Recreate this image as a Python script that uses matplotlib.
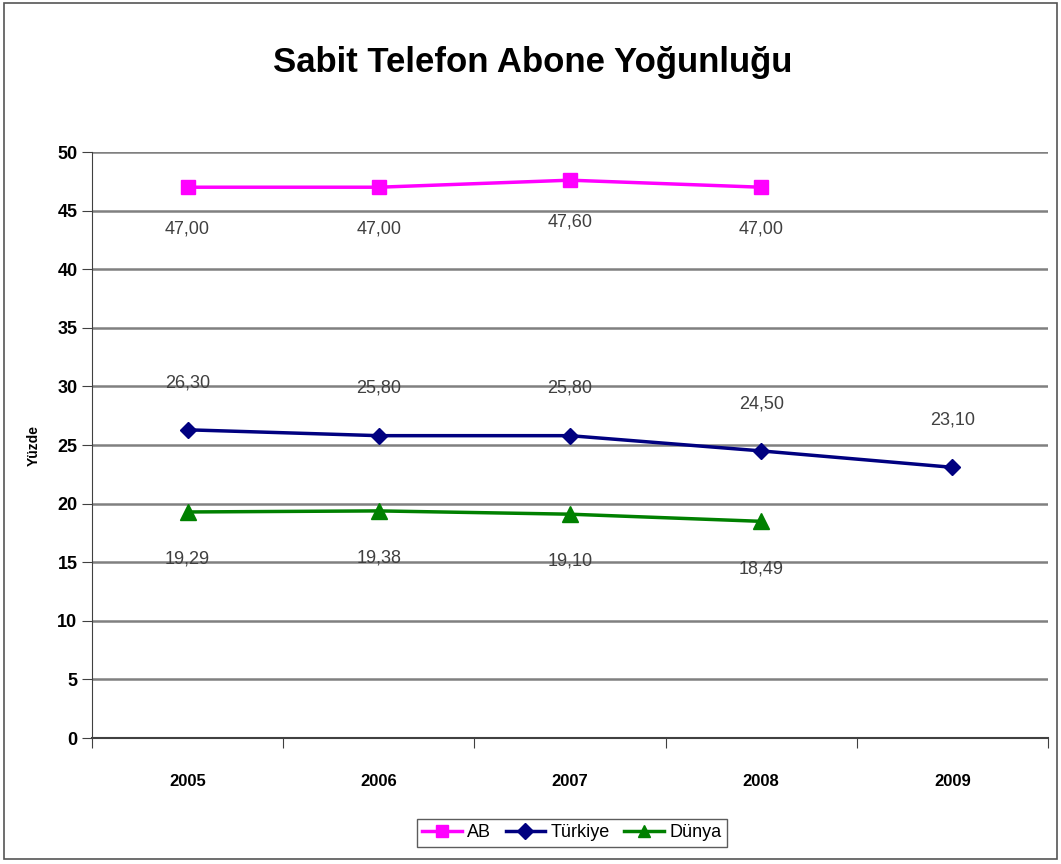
import numpy as np
import matplotlib
matplotlib.use("Agg")
import matplotlib.pyplot as plt
from matplotlib.patches import Rectangle

plt.rcParams['font.family'] = ['Liberation Sans', 'DejaVu Sans']

years = ['2005', '2006', '2007', '2008', '2009']
ab = [47.00, 47.00, 47.60, 47.00]
turkiye = [26.30, 25.80, 25.80, 24.50, 23.10]
dunya = [19.29, 19.38, 19.10, 18.49]

def fmt(v):
    return ('%.2f' % v).replace('.', ',')

fig = plt.figure(figsize=(10.61, 8.64), dpi=100)
fig.patches.append(Rectangle((0.004, 0.006), 0.992, 0.99, transform=fig.transFigure,
                             fill=False, edgecolor='#555555', linewidth=1.2))
ax = fig.add_axes([0.0867, 0.1458, 0.901, 0.6782])

x = np.arange(len(years))
ax.plot(x[:len(ab)], ab, color='#ff00ff', marker='s', markersize=10, linewidth=2.5, label='AB', zorder=3)
ax.plot(x, turkiye, color='#000080', marker='D', markersize=8, linewidth=2.5, label='Türkiye', zorder=3)
ax.plot(x[:len(dunya)], dunya, color='#008000', marker='^', markersize=11, linewidth=2.5, label='Dünya', zorder=3)

# etiquetas de datos
for i, v in enumerate(ab):
    ax.annotate(fmt(v), (x[i], v), xytext=(0, -30), textcoords='offset points',
                ha='center', va='center', fontsize=13, color='#404040')
for i, v in enumerate(turkiye):
    ax.annotate(fmt(v), (x[i], v), xytext=(0, 34), textcoords='offset points',
                ha='center', va='center', fontsize=13, color='#404040')
for i, v in enumerate(dunya):
    ax.annotate(fmt(v), (x[i], v), xytext=(0, -34), textcoords='offset points',
                ha='center', va='center', fontsize=13, color='#404040')

ax.set_xlim(-0.5, 4.5)
ax.set_ylim(0, 50)
ax.set_yticks(np.arange(0, 51, 5))
ax.yaxis.grid(True, color='#808080', linewidth=1.8)
ax.set_axisbelow(True)
ax.set_xticks(np.arange(-0.5, 4.6, 1))
ax.set_xticklabels([])
ax.set_xticks(x, minor=True)
ax.set_xticklabels(years, minor=True, fontsize=12, fontweight='bold')
ax.tick_params(axis='x', which='minor', length=0, pad=26)
ax.tick_params(axis='x', which='major', length=7, direction='out', color='#404040')
ax.tick_params(axis='y', labelsize=13, length=7, direction='out', color='#404040')
for lab in ax.get_yticklabels():
    lab.set_fontweight('bold')
for s in ['top', 'right']:
    ax.spines[s].set_visible(False)
ax.spines['left'].set_color('#404040')
ax.spines['bottom'].set_color('#404040')
ax.spines['bottom'].set_linewidth(1.5)

ax.set_ylabel('Yüzde', fontsize=10, fontweight='bold', labelpad=12)

fig.text(0.502, 0.928, 'Sabit Telefon Abone Yoğunluğu', ha='center', va='center',
         fontsize=25, fontweight='bold')

leg = fig.legend(loc='center', bbox_to_anchor=(0.539, 0.036), ncol=3, fontsize=13,
                 frameon=True, handlelength=2.2, handletextpad=0.3, columnspacing=0.8,
                 borderpad=0.3, fancybox=False, edgecolor='#333333')
for h in leg.legend_handles:
    h.set_markersize(8)

fig.savefig('out.png', dpi=100)
